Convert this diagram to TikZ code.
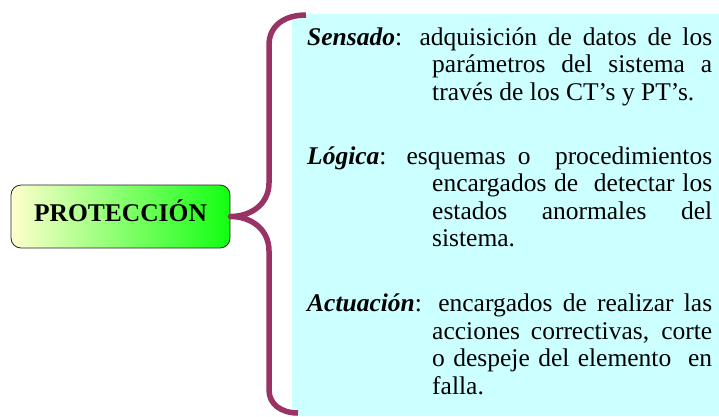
\documentclass[tikz,border=0pt]{standalone}
\usepackage{fontspec}
\setmainfont{Liberation Serif}
\usetikzlibrary{positioning}

% Colours
\definecolor{bracepurple}{HTML}{993366}
\definecolor{panelcyan}{HTML}{CCFFFF}
\definecolor{paleyellow}{HTML}{FFFFCC}
\definecolor{brightgreen}{HTML}{11FF11}

\tikzset{
  mainbox/.style={draw=black!85, line width=0.8pt, rounded corners=10pt,
    left color=paleyellow, right color=brightgreen,
    minimum width=219pt, minimum height=63pt, inner sep=0pt,
    text height=17pt, text depth=8pt,
    font=\fontsize{25.5}{28}\selectfont\bfseries},
  desc/.style={anchor=base west, inner sep=0pt, text width=405pt,
    align=justify, font=\fontsize{25.5}{27.5}\selectfont},
  bracestroke/.style={bracepurple, line width=5.5pt, line join=round}
}

\begin{document}
\begin{tikzpicture}[x=1pt, y=-1pt]

    % Fix the frame of the picture
    \useasboundingbox (0,0) rectangle (719,416);

    % Background panel behind the three descriptions
    \fill[panelcyan] (292,14) rectangle (719,416);

    % Main concept box
    \node[mainbox] (prot) at (120.5,216.5) {PROTECCIÓN};

    % Ends of the brace
    \coordinate (btop) at (306,15);
    \coordinate (bbot) at (298,413);

    % Draw the brace from its top end, through the tip at the box, to its bottom end
    \draw[bracestroke] (btop) .. controls (284,15) and (269,26) .. (269,45)
        -- (269,183) .. controls (269,204) and (251,216.5) .. (prot.east)
        .. controls (251,216.5) and (269,229) .. (269,251)
        -- (269,390) .. controls (269,404) and (281,413) .. (bbot);

    % The three descriptions, each with a hanging indent
    \node[desc] (sensado) at (307,45) {\noindent\hangindent=125pt\hangafter=1
        \textbf{\textit{Sensado}}: adquisición de datos de los\linebreak
        parámetros del sistema a\linebreak
        través de los CT’s y PT’s.\par};
    \node[desc] (logica) at (307,164) {\noindent\hangindent=125pt\hangafter=1
        \textbf{\textit{Lógica}}: esquemas o\ \ procedimientos\linebreak
        encargados de\ \ detectar los\linebreak
        estados anormales del\linebreak
        sistema.\par};
    \node[desc] (actuacion) at (307,311.5) {\noindent\hangindent=125pt\hangafter=1
        \textbf{\textit{Actuación}}: encargados de realizar las\linebreak
        acciones correctivas, corte\linebreak
        o despeje del elemento\ \ en\linebreak
        falla.\par};

\end{tikzpicture}
\end{document}
